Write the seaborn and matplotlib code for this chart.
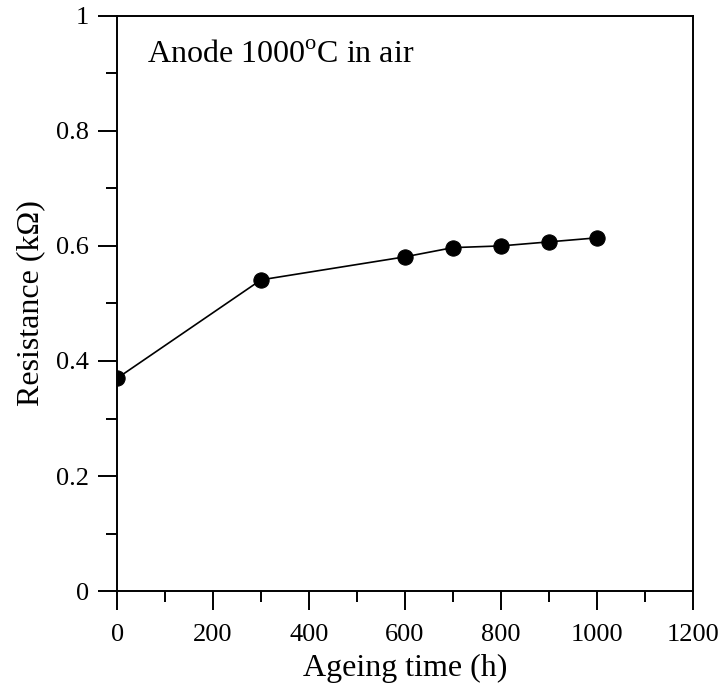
import numpy as np
import pandas as pd
import seaborn as sns
from matplotlib import pyplot as plt
from matplotlib.ticker import MultipleLocator, FormatStrFormatter

# ageing data
time_h = [0, 300, 600, 700, 800, 900, 1000]
resistance_kohm = [0.370, 0.541, 0.581, 0.597, 0.600, 0.607, 0.614]

def main():
    sns.set_theme(style='ticks')
    plt.rcParams['font.family'] = ['Liberation Serif', 'DejaVu Serif']
    plt.rcParams['mathtext.fontset'] = 'custom'
    plt.rcParams['mathtext.rm'] = 'Liberation Serif'
    plt.rcParams['text.color'] = 'black'
    plt.rcParams['axes.labelcolor'] = 'black'

    df = pd.DataFrame({'time': time_h, 'resistance': resistance_kohm})

    fig = plt.figure(figsize=(7.23, 6.85), dpi=100)
    ax = fig.add_axes([0.162, 0.137, 0.796, 0.840])
    sns.lineplot(x='time', y='resistance', data=df, ax=ax, color='black',
                 marker='o', markersize=11, markeredgecolor='black',
                 linewidth=1.2)

    ax.set_xlim(0, 1200)
    ax.set_ylim(0, 1)
    ax.xaxis.set_major_locator(MultipleLocator(200))
    ax.xaxis.set_minor_locator(MultipleLocator(100))
    ax.yaxis.set_major_locator(MultipleLocator(0.2))
    ax.yaxis.set_minor_locator(MultipleLocator(0.1))
    ax.yaxis.set_major_formatter(FormatStrFormatter('%g'))

    for s in ax.spines.values():
        s.set_linewidth(1.4)
        s.set_color('black')
    ax.tick_params(which='major', length=14, width=1.4, labelsize=19,
                   colors='black', labelcolor='black')
    ax.tick_params(axis='x', which='major', pad=10)
    ax.tick_params(axis='y', which='major', pad=6)
    ax.tick_params(which='minor', length=8, width=1.4, colors='black')
    ax.tick_params(top=False, right=False)

    ax.set_xlabel('Ageing time (h)', fontsize=23, labelpad=5, color='black')
    ax.set_ylabel('Resistance (k\u03a9)', fontsize=23, labelpad=8, color='black')
    ax.text(0.052, 0.918, r'Anode 1000$^\mathrm{o}$C in air', transform=ax.transAxes,
            fontsize=23, va='baseline', ha='left', color='black')

    plt.savefig('out.png', dpi=100)

if __name__ == '__main__':
    main()
